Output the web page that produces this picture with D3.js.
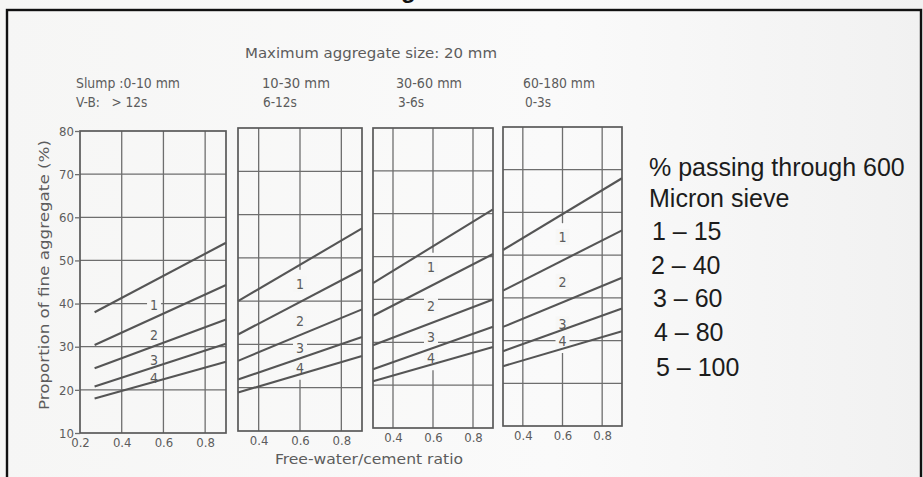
<!DOCTYPE html>
<html>
<head>
<meta charset="utf-8">
<script src="https://cdn.jsdelivr.net/npm/d3@7"></script>
<style>
  html, body { margin: 0; padding: 0; background: #f7f7f6; }
  svg { display: block; }
</style>
</head>
<body>
<svg id="chart" width="923" height="477"></svg>
<script>
// Workability classes, one panel each
const slumpLabels = ["Slump :0-10 mm", "10-30 mm", "30-60 mm", "60-180 mm"];
const vebeLabels = ["V-B:   > 12s", "6-12s", "3-6s", "0-3s"];

// Free-water/cement ratio range covered by each panel
const ratioDomains = [[0.2, 0.9], [0.3, 0.9], [0.3, 0.9], [0.3, 0.9]];
const ratioTicks = [0.2, 0.4, 0.6, 0.8];
const proportionTicks = [10, 20, 30, 40, 50, 60, 70, 80];

// Each boundary line runs straight from its start ratio to w/c = 0.9
const lineStartRatio = [0.27, 0.3, 0.3, 0.3];
const lineEndRatio = 0.9;

// Proportion of fine aggregate (%) at the start and end of the five lines, per panel
const startProportion = [
  [38.0, 30.4, 25.0, 20.8, 18.0],
  [40.0, 32.3, 26.2, 21.9, 18.9],
  [43.8, 36.2, 29.3, 23.7, 20.9],
  [51.2, 41.7, 33.2, 27.5, 24.0]
];
const endProportion = [
  [54.1, 44.3, 36.3, 30.7, 26.5],
  [56.8, 47.3, 38.1, 31.7, 27.3],
  [61.0, 50.6, 40.0, 33.6, 28.9],
  [68.0, 55.8, 44.7, 37.5, 32.2]
];

// Zone numbers written between the lines
const zoneLabels = ["1", "2", "3", "4"];
const zoneLabelRatio = [0.555, 0.6, 0.59, 0.6];
const zoneLabelProportion = [
  [39.6, 32.6, 26.9, 22.7],
  [44.0, 35.5, 29.1, 24.6],
  [47.6, 38.5, 31.2, 26.3],
  [54.2, 43.8, 33.8, 29.9]
];

const legendLines = ["% passing through 600", "Micron sieve", "1 \u2013 15", "2 \u2013 40", "3 \u2013 60", "4 \u2013 80", "5 \u2013 100"];

// ---- layout ----
const ink = "#5c5c5c";
const paper = "#f7f7f6";
const chartFont = "'DejaVu Sans Condensed', 'DejaVu Sans', sans-serif";
const panelBoxes = [
  { left: 80,  right: 226, top: 131, bottom: 433 },
  { left: 238, right: 362, top: 128, bottom: 431 },
  { left: 373, right: 493, top: 128, bottom: 428 },
  { left: 503, right: 622, top: 127, bottom: 426 }
];

const svg = d3.select("#chart");

// page background with a faint shading towards the right
const defs = svg.append("defs");
const grad = defs.append("linearGradient").attr("id", "paper").attr("x1", 0).attr("x2", 1).attr("y1", 0).attr("y2", 0);
grad.append("stop").attr("offset", 0).attr("stop-color", "#f6f6f5");
grad.append("stop").attr("offset", 0.6).attr("stop-color", "#fafafa");
grad.append("stop").attr("offset", 1).attr("stop-color", "#f1f1f1");
svg.append("rect").attr("width", 923).attr("height", 477).attr("fill", "url(#paper)");

// title glyph, clipped by the top of the page
svg.append("text")
  .attr("x", 401).attr("y", -2)
  .attr("font-family", "'Liberation Sans', Arial, sans-serif")
  .attr("font-weight", "bold").attr("font-size", 24)
  .attr("fill", "#111")
  .text("g");

// outer frame
svg.append("rect")
  .attr("x", 7).attr("y", 10).attr("width", 914).attr("height", 480)
  .attr("fill", "none").attr("stroke", "#111").attr("stroke-width", 2.4);

// header
svg.append("text")
  .attr("x", 245).attr("y", 58)
  .attr("font-family", chartFont).attr("font-size", 14).attr("fill", ink)
  .attr("textLength", 252).attr("lengthAdjust", "spacingAndGlyphs")
  .text("Maximum aggregate size: 20 mm");

const headerX = [76, 262, 396, 523];
const slumpWidths = [104, 68, 66, 72];
const vebeX = [76, 263, 398, 525];
slumpLabels.forEach((s, i) => {
  svg.append("text")
    .attr("x", headerX[i]).attr("y", 88)
    .attr("font-family", chartFont).attr("font-size", 13.5).attr("fill", ink)
    .attr("textLength", slumpWidths[i]).attr("lengthAdjust", "spacingAndGlyphs")
    .text(s);
});
vebeLabels.forEach((s, i) => {
  svg.append("text")
    .attr("x", vebeX[i]).attr("y", 107)
    .attr("font-family", chartFont).attr("font-size", 13.5).attr("fill", ink)
    .attr("xml:space", "preserve")
    .text(s);
});

// ---- panels ----
ratioDomains.forEach((dom, p) => {
  const box = panelBoxes[p];
  const x = d3.scaleLinear().domain(dom).range([box.left, box.right]);
  const y = d3.scaleLinear().domain([10, 80]).range([box.bottom, box.top]);
  const g = svg.append("g");
  const gridStroke = "#6e6e6e";

  // label column: a vertical grid line running through it is interrupted between the numbers
  const labelRatio = zoneLabelRatio[p];
  const labelTop = y(d3.max(zoneLabelProportion[p])) - 14;
  const labelBottom = y(d3.min(zoneLabelProportion[p])) + 12;

  const innerRatios = ratioTicks.filter(t => t > dom[0] + 1e-9 && t < dom[1] - 1e-9);
  innerRatios.forEach(t => {
    const segs = Math.abs(t - labelRatio) < 0.02
      ? [[y(80), labelTop], [labelBottom, y(10)]]
      : [[y(80), y(10)]];
    segs.forEach(([a, b]) => {
      g.append("line")
        .attr("x1", x(t)).attr("x2", x(t)).attr("y1", a).attr("y2", b)
        .attr("stroke", gridStroke).attr("stroke-width", 1.3);
    });
  });
  g.selectAll(".hgrid").data(proportionTicks.slice(1, -1)).enter().append("line")
    .attr("x1", x(dom[0])).attr("x2", x(dom[1]))
    .attr("y1", d => y(d)).attr("y2", d => y(d))
    .attr("stroke", gridStroke).attr("stroke-width", 1.3);

  // knocked-out patches where the numbers sit on the grid
  zoneLabels.forEach((lab, k) => {
    const cx = x(labelRatio);
    const cy = y(zoneLabelProportion[p][k]);
    g.append("rect")
      .attr("x", cx - 7).attr("y", cy - 8).attr("width", 14).attr("height", 16)
      .attr("fill", paper);
  });

  // boundary lines
  const lineGen = d3.line().x(d => x(d[0])).y(d => y(d[1]));
  startProportion[p].forEach((v0, k) => {
    g.append("path")
      .attr("d", lineGen([[lineStartRatio[p], v0], [lineEndRatio, endProportion[p][k]]]))
      .attr("fill", "none").attr("stroke", "#555").attr("stroke-width", 2.1);
  });

  // zone numbers
  zoneLabels.forEach((lab, k) => {
    g.append("text")
      .attr("x", x(labelRatio)).attr("y", y(zoneLabelProportion[p][k]) + 5)
      .attr("text-anchor", "middle")
      .attr("font-family", chartFont).attr("font-size", 14).attr("fill", ink)
      .text(lab);
  });

  // frame of the panel
  g.append("rect")
    .attr("x", x(dom[0])).attr("y", y(80))
    .attr("width", x(dom[1]) - x(dom[0])).attr("height", y(10) - y(80))
    .attr("fill", "none").attr("stroke", "#5a5a5a").attr("stroke-width", 1.7);

  // ratio axis
  const xAxis = d3.axisBottom(x)
    .tickValues(ratioTicks.filter(t => t >= dom[0] - 1e-9 && t <= dom[1]))
    .tickFormat(d3.format(".1f"))
    .tickSize(0).tickPadding(5);
  const ax = g.append("g").attr("transform", `translate(0,${box.bottom})`).call(xAxis);
  ax.select(".domain").remove();
  ax.selectAll("text")
    .attr("font-family", chartFont).attr("font-size", 13).attr("fill", ink);

  // proportion axis on the first panel
  if (p === 0) {
    const yAxis = d3.axisLeft(y).tickValues(proportionTicks).tickSize(5).tickPadding(1);
    const ay = g.append("g").attr("transform", `translate(${box.left},0)`).call(yAxis);
    ay.select(".domain").remove();
    ay.selectAll("line").attr("stroke", gridStroke).attr("stroke-width", 1.3);
    ay.selectAll("text")
      .attr("font-family", chartFont).attr("font-size", 13).attr("fill", ink);
  }
});

// axis titles
svg.append("text")
  .attr("transform", "translate(49,275) rotate(-90)")
  .attr("text-anchor", "middle")
  .attr("font-family", chartFont).attr("font-size", 13.5).attr("fill", ink)
  .attr("textLength", 270).attr("lengthAdjust", "spacingAndGlyphs")
  .text("Proportion of fine aggregate (%)");

svg.append("text")
  .attr("x", 275).attr("y", 464)
  .attr("font-family", chartFont).attr("font-size", 13.5).attr("fill", ink)
  .attr("textLength", 188).attr("lengthAdjust", "spacingAndGlyphs")
  .text("Free-water/cement ratio");

// legend for the zone numbers
const legendBaselines = [176, 207, 240, 274, 307, 341, 376];
const legendIndent = [0, 0, 3, 2, 4, 5, 7];
legendLines.forEach((s, i) => {
  svg.append("text")
    .attr("x", 649 + legendIndent[i]).attr("y", legendBaselines[i])
    .attr("font-family", "'Liberation Sans', Arial, sans-serif")
    .attr("font-size", 25).attr("fill", "#1c1c1c")
    .text(s);
});
</script>
</body>
</html>
